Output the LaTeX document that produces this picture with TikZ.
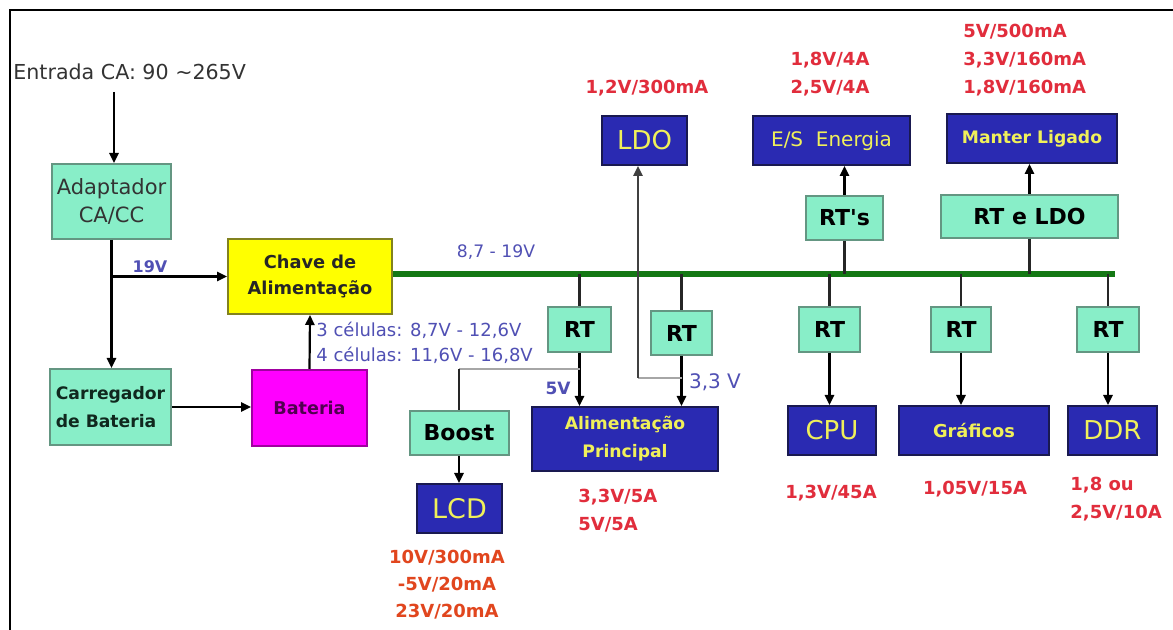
\documentclass[tikz,border=0pt]{standalone}
\usepackage{fontspec}
\setmainfont{DejaVu Sans}
\usetikzlibrary{arrows.meta}
\definecolor{aqua}{RGB}{136,238,200}
\definecolor{aquaedge}{RGB}{100,150,130}
\definecolor{boxblue}{RGB}{42,42,178}
\definecolor{blueedge}{RGB}{25,25,80}
\definecolor{ytext}{RGB}{240,240,90}
\definecolor{chaveyel}{RGB}{255,255,0}
\definecolor{chaveedge}{RGB}{130,130,30}
\definecolor{batmag}{RGB}{255,0,255}
\definecolor{batedge}{RGB}{160,0,160}
\definecolor{battext}{RGB}{80,0,80}
\definecolor{lblblue}{RGB}{80,80,180}
\definecolor{lblred}{RGB}{225,45,60}
\definecolor{lblorange}{RGB}{225,70,30}
\definecolor{busgreen}{RGB}{20,120,20}
\newcommand{\myfs}[2]{\fontsize{#1}{#2}\selectfont}
\begin{document}
\begin{tikzpicture}[x=0.5pt,y=-0.5pt,
  aquabox/.style={draw=aquaedge, line width=1pt, fill=aqua, inner sep=0pt, align=center, text=black},
  bluebox/.style={draw=blueedge, line width=1pt, fill=boxblue, inner sep=0pt, align=center, text=ytext},
  arr/.style={-{Triangle[length=5pt,width=4.6pt]}, line width=1.1pt, black},
  wire/.style={line width=1.1pt, black!85},
  gwire/.style={line width=1pt, black!35},
  bus/.style={line width=2.7pt, busgreen},
  redlbl/.style={text=lblred, font=\bfseries\myfs{9}{14}, inner sep=0pt},
  orglbl/.style={text=lblorange, font=\bfseries\myfs{9}{13.5}, inner sep=0pt},
  bluelbl/.style={text=lblblue, inner sep=0pt},
  rtfont/.style={font=\bfseries\myfs{11}{13}}
]
\useasboundingbox (0,0) rectangle (1173,630);
\fill[white] (0,0) rectangle (1173,630);
% frame
\draw[line width=1.3pt] (10,630) -- (10,10) -- (1173,10);

% input text
\node[anchor=west, inner sep=0pt, text=black!80, font=\myfs{10.3}{12}] (entrada) at (13,72) {Entrada CA: 90 \textasciitilde265V};

% boxes left
\node[aquabox, minimum width=59.5pt, minimum height=37.5pt, text=black!80, font=\myfs{10.5}{14}] (adapt) at (111.5,201.5) {Adaptador\\CA/CC};
\node[draw=chaveedge, line width=1pt, fill=chaveyel, inner sep=0pt, align=center, minimum width=82pt, minimum height=37.5pt, text=black!85, font=\bfseries\myfs{8.9}{13}] (chave) at (310,276.5) {Chave de\\Alimentação};
\node[aquabox, minimum width=60.5pt, minimum height=38pt, align=left, text={rgb,255:red,16;green,40;blue,30}, font=\bfseries\myfs{8.6}{14}] (carreg) at (110.5,407) {Carregador\\de Bateria};
\node[draw=batedge, line width=1pt, fill=batmag, inner sep=0pt, minimum width=57.5pt, minimum height=38pt, text=battext, font=\bfseries\myfs{8.8}{12}] (bat) at (309.5,408) {Bateria};

% middle
\node[bluebox, minimum width=42.5pt, minimum height=24.5pt, font=\myfs{13}{15}] (ldo) at (644.5,140.5) {LDO};
\node[aquabox, minimum width=31.5pt, minimum height=22.5pt, rtfont] (rt1) at (579.5,329.5) {RT};
\node[aquabox, minimum width=30.5pt, minimum height=22pt, rtfont] (rt2) at (681.5,333) {RT};
\node[bluebox, minimum width=93pt, minimum height=32pt, font=\bfseries\myfs{8.6}{14}] (alim) at (625,439) {Alimentação\\Principal};
\node[aquabox, minimum width=49.5pt, minimum height=22pt, rtfont] (boost) at (459,433) {Boost};
\node[bluebox, minimum width=42.5pt, minimum height=24.5pt, font=\myfs{13.5}{15}] (lcd) at (459.5,508.5) {LCD};

% right top
\node[bluebox, minimum width=78.5pt, minimum height=24.5pt, font=\myfs{10}{12}] (es) at (831.5,140.5) {E/S\ \ Energia};
\node[aquabox, minimum width=38.5pt, minimum height=22pt, rtfont] (rts) at (844.5,218) {RT\textquotesingle s};
\node[bluebox, minimum width=85pt, minimum height=24.5pt, font=\bfseries\myfs{8.6}{12}] (manter) at (1032,138.5) {Manter Ligado};
\node[aquabox, minimum width=88.5pt, minimum height=21.5pt, rtfont] (rtldo) at (1029.5,216.5) {RT e LDO};

% right bottom
\node[aquabox, minimum width=30.5pt, minimum height=22.5pt, rtfont] (rtc) at (829.5,329.5) {RT};
\node[aquabox, minimum width=30pt, minimum height=22.5pt, rtfont] (rtg) at (961,329.5) {RT};
\node[aquabox, minimum width=31pt, minimum height=22.5pt, rtfont] (rtd) at (1108,329.5) {RT};
\node[bluebox, minimum width=44pt, minimum height=24.5pt, font=\myfs{13}{15}] (cpu) at (832,430.5) {CPU};
\node[bluebox, minimum width=75pt, minimum height=24.5pt, font=\bfseries\myfs{8.9}{12}] (graf) at (974,430.5) {Gráficos};
\node[bluebox, minimum width=44.5pt, minimum height=24.5pt, font=\myfs{13}{15}] (ddr) at (1112.5,430.5) {DDR};

% coordinates
\coordinate (acin) at (114,92);
\coordinate (busend) at (1115,274);
\coordinate (j5) at (579.5,369);
\coordinate (j33) at (681.5,378);
\coordinate (ldoin) at (638,378);

% connectors left
\draw[arr] (acin) -- (acin |- adapt.north);
\draw[arr] (adapt.south) -- (adapt.south |- carreg.north);
\draw[arr] (adapt.south |- chave.west) -- (chave.west);
\draw[arr] (carreg.east) -- (bat.west |- carreg.east);
\draw[arr] (bat.north) -- (chave.south);

% bus
\draw[bus] (chave.east |- busend) -- (busend);

% bus to regulators
\draw[wire] (rt1.north |- busend) -- (rt1.north);
\draw[wire] (rt2.north |- busend) -- (rt2.north);
\draw[wire] (rtc.north |- busend) -- (rtc.north);
\draw[wire] (rtg.north |- busend) -- (rtg.north);
\draw[wire] (rtd.north |- busend) -- (rtd.north);
\draw[wire] (rts.south) -- (rts.south |- busend);
\draw[wire] (rtldo.south) -- (rtldo.south |- busend);

% regulators to loads
\draw[arr] (rts.north) -- (rts.north |- es.south);
\draw[arr] (rtldo.north) -- (rtldo.north |- manter.south);
\draw[arr] (rtc.south) -- (rtc.south |- cpu.north);
\draw[arr] (rtg.south) -- (rtg.south |- graf.north);
\draw[arr] (rtd.south) -- (rtd.south |- ddr.north);
\draw[arr] (rt1.south) -- (rt1.south |- alim.north);
\draw[arr] (rt2.south) -- (rt2.south |- alim.north);
\draw[arr] (boost.south) -- (boost.south |- lcd.north);

% boost feed and LDO feed
\draw[gwire] (j5) -- (j5 -| boost.north);
\draw[wire] (j5 -| boost.north) -- (boost.north);
\draw[gwire] (j33) -- (ldoin);
\draw[arr, black!75] (ldoin) -- (ldoin |- ldo.south);

% blue labels
\node[bluelbl, font=\bfseries\myfs{8}{10}] (l19) at (150,267) {19V};
\node[bluelbl, font=\myfs{8.6}{10}] (lbus) at (496,252) {8,7 - 19V};
\node[bluelbl, anchor=west, font=\myfs{9}{10}] (lc3) at (316,330) {3 células: 8,7V - 12,6V};
\node[bluelbl, anchor=west, font=\myfs{9}{10}] (lc4) at (316,355) {4 células: 11,6V - 16,8V};
\node[bluelbl, font=\bfseries\myfs{8.5}{10}] (l5v) at (558,388) {5V};
\node[bluelbl, font=\myfs{10}{12}] (l33) at (715,382) {3,3 V};

% red labels
\node[redlbl] (rldo) at (647,88) {1,2V/300mA};
\node[redlbl, align=left] (res) at (830,74) {1,8V/4A\\2,5V/4A};
\node[redlbl, align=left, anchor=west] (rman) at (963,60) {5V/500mA\\3,3V/160mA\\1,8V/160mA};
\node[redlbl, align=left, anchor=west] (ralim) at (578,511) {3,3V/5A\\5V/5A};
\node[orglbl, align=center] (rlcd) at (447,585) {10V/300mA\\-5V/20mA\\23V/20mA};
\node[redlbl] (rcpu) at (831,493) {1,3V/45A};
\node[redlbl] (rgraf) at (975,489) {1,05V/15A};
\node[redlbl, align=left, anchor=west] (rddr) at (1070,499) {1,8 ou\\2,5V/10A};
\end{tikzpicture}
\end{document}
